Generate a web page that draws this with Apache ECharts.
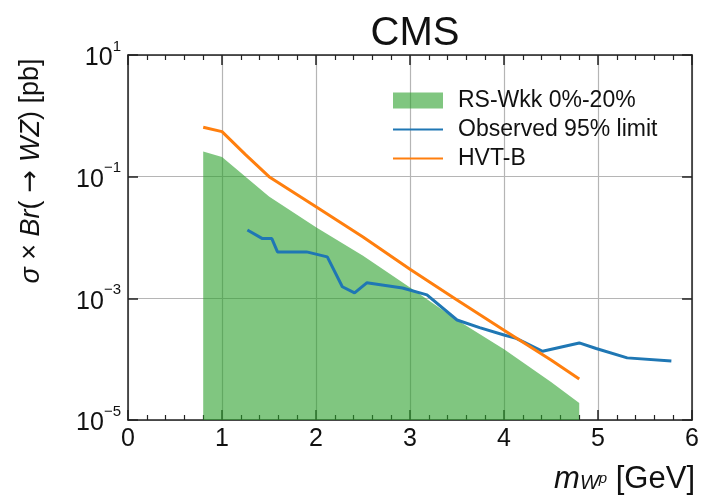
<!DOCTYPE html>
<html>
<head>
<meta charset="utf-8">
<script src="https://cdn.jsdelivr.net/npm/echarts@6/dist/echarts.min.js"></script>
<style>
html, body { margin: 0; padding: 0; background: #fff; }
#chart { width: 702px; height: 503px; }
</style>
</head>
<body>
<div id="chart"></div>
<script>
// RS-Wkk 0%-20% band (upper edge), mass in TeV-ish units as on the plot
var rsMass = [0.8, 1.0, 1.25, 1.5, 2.0, 2.5, 3.0, 3.5, 4.0, 4.5, 4.8];
var rsXsec = [0.26, 0.21, 0.1, 0.047, 0.0148, 0.005, 0.0015, 0.00044, 0.000145, 0.000042, 0.000019];
// observed 95% limit
var obsMass = [1.27, 1.43, 1.53, 1.59, 1.9, 2.12, 2.28, 2.41, 2.54, 2.92, 3.18, 3.5, 3.74, 4.0, 4.13, 4.41, 4.8, 4.98, 5.31, 5.78];
var obsXsec = [0.0133, 0.0096, 0.0096, 0.0058, 0.0058, 0.0048, 0.00155, 0.00123, 0.0018, 0.00148, 0.00114, 0.00044, 0.00033, 0.00025, 0.00022, 0.000135, 0.000185, 0.00015, 0.000105, 0.000093];
// HVT-B
var hvtMass = [0.8, 1.0, 1.25, 1.5, 2.0, 2.5, 3.0, 3.5, 4.0, 4.5, 4.8];
var hvtXsec = [0.65, 0.55, 0.23, 0.1, 0.032, 0.0102, 0.003, 0.00094, 0.0003, 0.000097, 0.000047];
// y tick labels (decades)
var yTicks = [1e-5, 1e-3, 1e-1, 10];

var FONT = 'Liberation Sans';
var AXIS = '#222';
var GRID = '#b5b5b5';
var INK = '#111';

function pairs(xs, ys) {
    return xs.map(function (x, i) { return [x, ys[i]]; });
}

// 10^n with a raised exponent
function decadeLabel(v) {
    var e = Math.round(Math.log10(v));
    return '{b|10}{s|' + String(e).replace('-', '\u2212') + '}';
}

var tickStyle = { color: AXIS, width: 1.5 };
var minorStyle = { color: AXIS, width: 1.2 };

var myChart = echarts.init(document.getElementById('chart'));
var option = {
    animation: false,
    backgroundColor: '#fff',
    textStyle: { fontFamily: FONT },
    title: {
        text: 'CMS',
        left: 410,
        top: 9,
        textAlign: 'center',
        textStyle: { fontFamily: FONT, fontSize: 40, fontWeight: 'normal', color: INK }
    },
    grid: { left: 128, right: 9, top: 55, bottom: 83, containLabel: false },
    legend: {
        orient: 'vertical',
        left: 387,
        top: 84,
        itemWidth: 50,
        itemHeight: 16,
        itemGap: 6,
        textStyle: { fontFamily: FONT, fontSize: 23, color: INK, padding: [0, 0, 0, 10] },
        data: [
            { name: 'RS-Wkk 0%-20%', icon: 'rect' },
            { name: 'Observed 95% limit', itemStyle: { opacity: 0 } },
            { name: 'HVT-B', itemStyle: { opacity: 0 } }
        ]
    },
    xAxis: [{
        type: 'value', min: 0, max: 6, interval: 1, position: 'bottom',
        axisLine: { show: true, onZero: false, lineStyle: tickStyle },
        axisTick: { show: true, inside: true, length: 10, lineStyle: tickStyle },
        minorTick: { show: true, splitNumber: 5, length: 5, lineStyle: minorStyle },
        axisLabel: { fontFamily: FONT, fontSize: 25, color: INK, margin: 7 },
        splitLine: { show: true, lineStyle: { color: GRID, width: 1.2 } }
    }, {
        type: 'value', min: 0, max: 6, interval: 1, position: 'top',
        axisLine: { show: true, onZero: false, lineStyle: tickStyle },
        axisTick: { show: true, inside: true, length: 10, lineStyle: tickStyle },
        minorTick: { show: true, splitNumber: 5, length: 5, lineStyle: minorStyle },
        axisLabel: { show: false },
        splitLine: { show: false }
    }],
    yAxis: [{
        type: 'log', logBase: 10, min: 1e-5, max: 10, position: 'left',
        axisLine: { show: true, onZero: false, lineStyle: tickStyle },
        axisTick: { show: true, inside: true, length: 10, customValues: yTicks, lineStyle: tickStyle },
        axisLabel: {
            customValues: yTicks,
            margin: 7,
            formatter: decadeLabel,
            rich: {
                b: { fontFamily: FONT, fontSize: 25, color: INK, lineHeight: 32, verticalAlign: 'bottom' },
                s: { fontFamily: FONT, fontSize: 15, color: INK, lineHeight: 25, verticalAlign: 'top' }
            }
        },
        splitLine: { show: true, lineStyle: { color: GRID, width: 1.2 } }
    }, {
        type: 'log', logBase: 10, min: 1e-5, max: 10, position: 'right',
        axisLine: { show: true, onZero: false, lineStyle: tickStyle },
        axisTick: { show: true, inside: true, length: 10, customValues: yTicks, lineStyle: tickStyle },
        axisLabel: { show: false },
        splitLine: { show: false }
    }],
    graphic: [{
        // y axis title, read bottom to top
        type: 'text',
        x: 31, y: 171,
        rotation: Math.PI / 2,
        style: {
            text: '{i|\u03c3} \u00d7 {i|Br}({a|\u2192}{i|WZ}) [pb]',
            align: 'center',
            verticalAlign: 'middle',
            fontFamily: FONT, fontSize: 27, fill: INK,
            rich: {
                i: { fontFamily: FONT, fontSize: 27, fontStyle: 'italic', fill: INK },
                a: { fontFamily: 'DejaVu Sans', fontSize: 27, fill: INK, padding: [0, 8, 0, 8] }
            }
        }
    }, {
        // x axis title, bottom right; top padding places each piece on its baseline
        type: 'text',
        right: 7, top: 464,
        style: {
            text: '{m|m}{w|W}{p|p}{n| [GeV]}',
            fontFamily: FONT, fontSize: 30, fill: INK,
            rich: {
                m: { fontFamily: FONT, fontSize: 31, fontStyle: 'italic', verticalAlign: 'top', fill: INK },
                w: { fontFamily: FONT, fontSize: 20, fontStyle: 'italic', verticalAlign: 'top', padding: [9, 0, 0, 0], fill: INK },
                p: { fontFamily: FONT, fontSize: 15, fontStyle: 'italic', verticalAlign: 'top', padding: [7, 0, 0, 0], fill: INK },
                n: { fontFamily: FONT, fontSize: 31, verticalAlign: 'top', fill: INK }
            }
        }
    }],
    series: [{
        name: 'RS-Wkk 0%-20%',
        type: 'line',
        data: pairs(rsMass, rsXsec),
        symbol: 'none',
        itemStyle: { color: 'rgba(44,160,44,0.6)' },
        lineStyle: { width: 0 },
        areaStyle: { color: 'rgba(44,160,44,0.6)', opacity: 1, origin: 'start' },
        z: 2
    }, {
        name: 'Observed 95% limit',
        type: 'line',
        data: pairs(obsMass, obsXsec),
        symbol: 'none',
        itemStyle: { color: '#1f77b4' },
        lineStyle: { color: '#1f77b4', width: 3 },
        z: 3
    }, {
        name: 'HVT-B',
        type: 'line',
        data: pairs(hvtMass, hvtXsec),
        symbol: 'none',
        itemStyle: { color: '#ff7f0e' },
        lineStyle: { color: '#ff7f0e', width: 3 },
        z: 4
    }]
};
myChart.setOption(option);
</script>
</body>
</html>
